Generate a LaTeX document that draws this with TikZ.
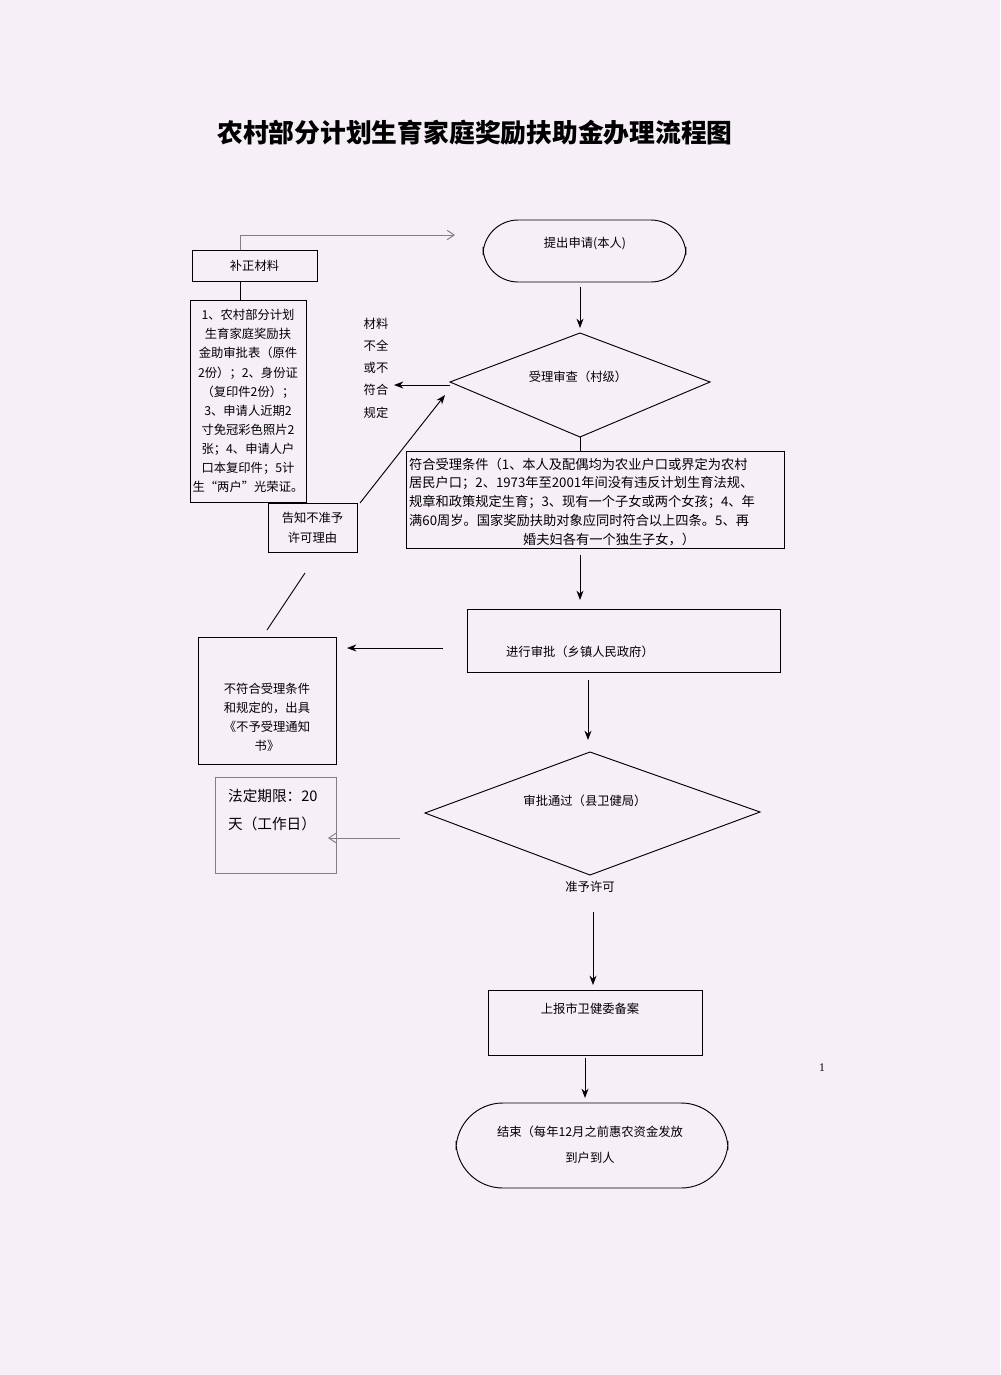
\documentclass[tikz,border=0pt]{standalone}
\usepackage{fontspec}
\setmainfont{Liberation Serif}
\newfontfamily\cjk{Noto Sans CJK SC}
\usetikzlibrary{arrows.meta}
\definecolor{paper}{HTML}{F6EFF7}
\tikzset{x=0.03cm,y=-0.03cm,
 bx/.style={draw,thick,inner sep=0pt},
 ar/.style={thick,-{Stealth[length=8pt,width=6pt]}},
 gar/.style={gray,thick,-{Straight Barb[length=6pt,width=8pt]}},
 t/.style={font=\cjk\fontsize{10.5}{17}\selectfont,align=center}}
\begin{document}
\begin{tikzpicture}
\fill[paper] (0,0) rectangle (1000,1375);
\useasboundingbox (0,0) rectangle (1000,1375);
\node[font=\cjk\bfseries\fontsize{22}{26}\selectfont] (title) at (475,133) {农村部分计划生育家庭奖励扶助金办理流程图};
% start
\draw[thick,rounded corners=30] (483,220) rectangle (686,282);
\node[t] (s) at (585,244) {提出申请(本人)};
\coordinate (sb) at (580,287);
\draw[thick] (450,382) -- (580,333) -- (710,382) -- (580,437) -- cycle;
\node[t] (d1) at (578,377) {受理审查（村级）};
\coordinate (d1t) at (580,328);
\draw[ar] (sb) -- (d1t);
\coordinate (d1l) at (450,385);
\coordinate (d1b) at (580,437);
\coordinate (lbl) at (394,385);
\draw[ar] (d1l) -- (lbl);
\node[t,font=\cjk\fontsize{10.5}{19}\selectfont] (cl) at (376,368) {材料\\不全\\或不\\符合\\规定};
% conditions
\node[bx,minimum width=378*0.03cm,minimum height=97*0.03cm] (cond) at (595,500) {};
\node[t,align=left,inner sep=0pt,font=\cjk\fontsize{11.3}{16.2}\selectfont,anchor=west] at (409,502) {符合受理条件（1、本人及配偶均为农业户口或界定为农村\\居民户口；2、1973年至2001年间没有违反计划生育法规、\\规章和政策规定生育；3、现有一个子女或两个女孩；4、年\\满60周岁。国家奖励扶助对象应同时符合以上四条。5、再\\\hspace*{8.6em}婚夫妇各有一个独生子女，）};
\draw[thick] (d1b) -- (cond.north -| d1b);
% left column
\node[bx,minimum width=125*0.03cm,minimum height=31*0.03cm] (bz) at (254.5,265.5) {};
\node[t] at (bz) {补正材料};
\coordinate (c1) at (240,235);
\coordinate (c2) at (455,235);
\draw[gar] (bz.north -| c1) -- (c1) -- (c2);
\node[bx,minimum width=116*0.03cm,minimum height=202*0.03cm] (mat) at (248,401) {};
\node[t,font=\cjk\fontsize{10.5}{16.3}\selectfont] at (mat) {1、农村部分计划\\生育家庭奖励扶\\金助审批表（原件\\2份）；2、身份证\\（复印件2份）；\\3、申请人近期2\\寸免冠彩色照片2\\张；4、申请人户\\口本复印件；5计\\生“两户”光荣证。};
\draw[thick] (bz.south -| c1) -- (mat.north -| c1);
\node[bx,minimum width=89*0.03cm,minimum height=49*0.03cm] (gz) at (312.5,527.5) {};
\node[t] at (gz) {告知不准予\\许可理由};
\coordinate (gzt) at (445,395);
\draw[ar] (360,503) -- (gzt);
% approve
\coordinate (ca) at (580,555);
\node[bx,minimum width=313*0.03cm,minimum height=63*0.03cm] (ap) at (623.5,640.5) {};
\node[t] at (580,652) {进行审批（乡镇人民政府）};
\draw[ar] (ca) -- (580,600);
\node[bx,minimum width=138*0.03cm,minimum height=127*0.03cm] (no) at (267,700.5) {};
\node[t,font=\cjk\fontsize{10.5}{16.3}\selectfont] at (267,717) {不符合受理条件\\和规定的，出具\\《不予受理通知\\书》};
\draw[ar] (443,648) -- (347,648);
\draw[thick] (305,573) -- (267,630);
\draw[ar] (588,680) -- (588,740);
\draw[thick] (425,813) -- (590,752) -- (760,812) -- (590,875) -- cycle;
\node[t] (d2) at (585,801) {审批通过（县卫健局）};
\node[t] (ok) at (590,887) {准予许可};
\node[draw=gray,thick,minimum width=121*0.03cm,minimum height=96*0.03cm] (fd) at (275.5,825) {};
\node[t,align=left,font=\cjk\fontsize{12.5}{24}\selectfont,anchor=north west] at (224,785) {法定期限：20\\天（工作日）};
\draw[gar] (400,838) -- (328,838);
\draw[ar] (593,912) -- (593,985);
\node[bx,minimum width=214*0.03cm,minimum height=65*0.03cm] (sb2) at (595,1022.5) {};
\node[t] at (590,1009) {上报市卫健委备案};
\draw[ar] (585,1058) -- (585,1098);
\draw[thick,rounded corners=40] (456,1103) rectangle (728,1188);
\node[t,font=\cjk\fontsize{10.5}{22}\selectfont] (end) at (590,1145) {结束（每年12月之前惠农资金发放\\到户到人};
\node[font=\fontsize{10}{12}\selectfont] (pg) at (822,1068) {1};
\end{tikzpicture}
\end{document}
